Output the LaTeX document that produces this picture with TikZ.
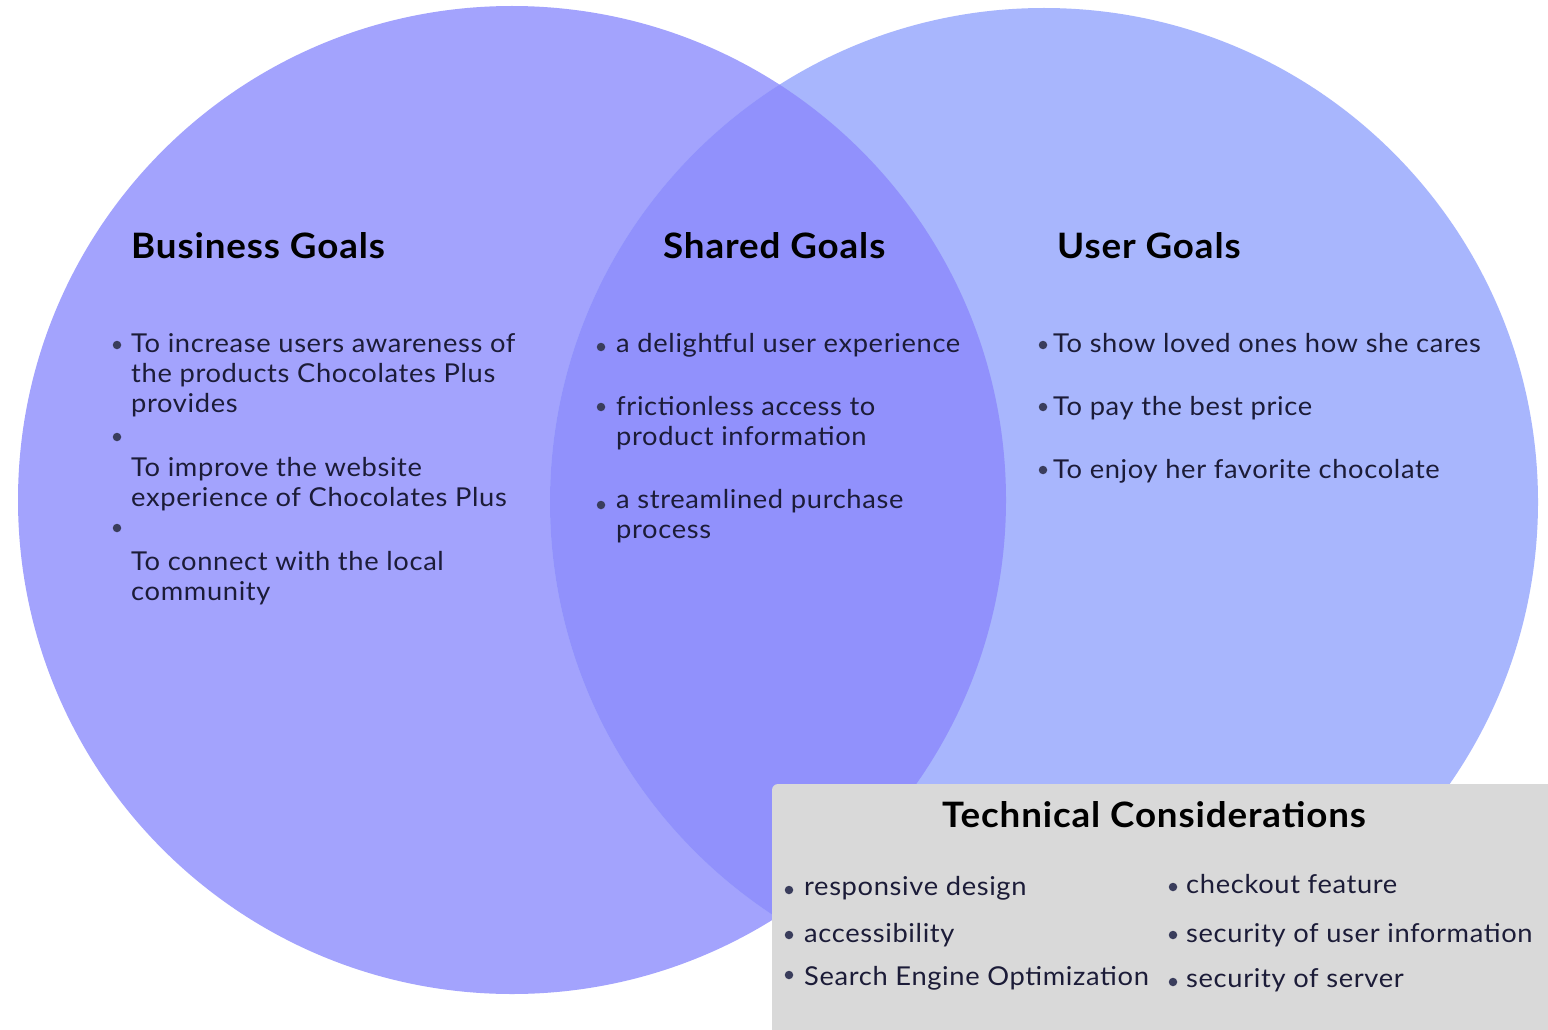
\documentclass[tikz,border=0pt]{standalone}
\usepackage{fontspec}
\setmainfont{Lato}[FakeStretch=1.05,LetterSpace=2.5]
\begin{document}
\definecolor{leftc}{HTML}{A3A3FD}
\definecolor{rightc}{HTML}{A8B6FD}
\definecolor{midc}{HTML}{9191FC}
\definecolor{boxc}{HTML}{D9D9D9}
\definecolor{txtc}{HTML}{1C1C38}
\definecolor{dotc}{HTML}{3A3D5C}
\begin{tikzpicture}[x=1pt,y=-1pt,
  head/.style={anchor=base west,inner sep=0,font=\fontsize{35}{40}\selectfont\bfseries,text=black},
  techhead/.style={anchor=base,inner sep=0,font=\fontsize{35}{40}\selectfont\bfseries,text=black},
  item/.style={anchor=base west,inner sep=0,font=\fontsize{26}{30}\selectfont,text=txtc},
  titem/.style={anchor=base west,inner sep=0,font=\fontsize{26}{30}\selectfont,text=txtc},
  dot/.style={circle,fill=dotc,inner sep=0,minimum size=8.5pt}]
\useasboundingbox (0,0) rectangle (1548,1030);
\fill[white] (0,0) rectangle (1548,1030);
% the two circles and their overlap
\fill[leftc] (512,500) circle[radius=494];
\fill[rightc] (1044,502) circle[radius=494];
\begin{scope}
  \clip (512,500) circle[radius=494];
  \fill[midc] (1044,502) circle[radius=494];
\end{scope}
% technical considerations panel
\fill[boxc,rounded corners=6pt] (772,784) -- (1548,784) -- (1548,1030) -- (772,1030) -- cycle;
\path[fill=boxc] (1540,784) rectangle (1548,1030);
\path[fill=boxc] (772,1022) rectangle (1548,1030);

% headings
\node[head] (hbus) at (131,258) {Business Goals};
\node[head] (hsh) at (663,258) {Shared Goals};
\node[head] (husr) at (1057,258) {User Goals};

% business goals
\node[dot] (bd1) at (117,345) {};
\node[item] (b1a) at (131,352) {To increase users awareness of};
\node[item] (b1b) at (131,382) {the products Chocolates Plus};
\node[item] (b1c) at (131,412) {provides};
\node[dot] (bd2) at (117,437) {};
\node[item] (b2a) at (131,476) {To improve the website};
\node[item] (b2b) at (131,506) {experience of Chocolates Plus};
\node[dot] (bd3) at (117,528) {};
\node[item] (b3a) at (131,570) {To connect with the local};
\node[item] (b3b) at (131,600) {community};

% shared goals
\node[dot] (sd1) at (601,347) {};
\node[item] (s1a) at (616,352) {a delightful user experience};
\node[dot] (sd2) at (601,407) {};
\node[item] (s2a) at (616,415) {frictionless access to};
\node[item] (s2b) at (616,445) {product information};
\node[dot] (sd3) at (601,505) {};
\node[item] (s3a) at (616,508) {a streamlined purchase};
\node[item] (s3b) at (616,538) {process};

% user goals
\node[dot] (ud1) at (1043,345) {};
\node[item] (u1) at (1053,352) {To show loved ones how she cares};
\node[dot] (ud2) at (1043,407) {};
\node[item] (u2) at (1053,415) {To pay the best price};
\node[dot] (ud3) at (1043,470) {};
\node[item] (u3) at (1053,478) {To enjoy her favorite chocolate};

% technical considerations
\node[techhead] (ht) at (1154,827) {Technical Considerations};
\node[dot] (td1) at (789,890) {};
\node[titem] (t1) at (804,895) {responsive design};
\node[dot] (td2) at (789,935) {};
\node[titem] (t2) at (804,942) {accessibility};
\node[dot] (td3) at (789,975) {};
\node[titem] (t3) at (804,985) {Search Engine Optimization};
\node[dot] (td4) at (1173,887) {};
\node[titem] (t4) at (1186,893) {checkout feature};
\node[dot] (td5) at (1173,935) {};
\node[titem] (t5) at (1186,942) {security of user information};
\node[dot] (td6) at (1173,982) {};
\node[titem] (t6) at (1186,987) {security of server};
\end{tikzpicture}
\end{document}
